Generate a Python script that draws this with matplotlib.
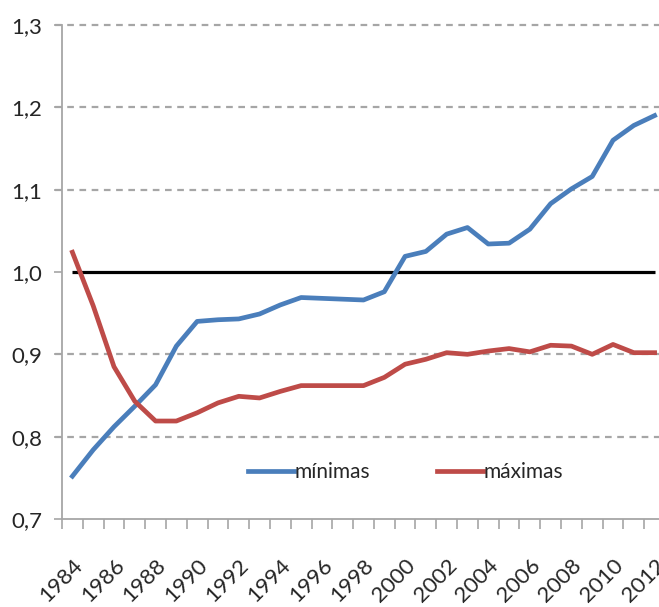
import matplotlib
matplotlib.use("Agg")
import matplotlib.pyplot as plt
from matplotlib.ticker import FuncFormatter

plt.rcParams['font.family'] = ['Lato', 'DejaVu Sans']

years = list(range(1984, 2013))
minimas = [0.752, 0.784, 0.812, 0.837, 0.863, 0.910, 0.940, 0.942, 0.943, 0.949,
           0.960, 0.969, 0.968, 0.967, 0.966, 0.976, 1.019, 1.025, 1.046, 1.054,
           1.034, 1.035, 1.052, 1.083, 1.101, 1.116, 1.160, 1.178, 1.190]
maximas = [1.024, 0.959, 0.885, 0.843, 0.819, 0.819, 0.829, 0.841, 0.849, 0.847,
           0.855, 0.862, 0.862, 0.862, 0.862, 0.872, 0.888, 0.894, 0.902, 0.900,
           0.904, 0.907, 0.903, 0.911, 0.910, 0.900, 0.912, 0.902, 0.902]
reference = [1.0] * len(years)
y_ticks = [0.7, 0.8, 0.9, 1.0, 1.1, 1.2, 1.3]

blue = '#4A7EBB'
red = '#BE4B48'
grey = '#A6A6A6'
text_col = '#262626'

fig = plt.figure(figsize=(6.59, 6.07), dpi=100)
ax = fig.add_axes([62 / 659, 88 / 607, 603 / 659, 494 / 607])

x = list(range(len(years)))

# dashed horizontal grid
for v in y_ticks[1:]:
    if abs(v - 1.0) > 1e-9:
        ax.axhline(v, color=grey, lw=1.6, ls=(0, (3, 2.5)), zorder=1, xmin=-0.012, clip_on=False)

ax.plot(x, reference, color='black', lw=2.3, zorder=2, solid_capstyle='butt')
ax.plot(x, minimas, color=blue, lw=3.4, label='mínimas', zorder=3, solid_joinstyle='round')
ax.plot(x, maximas, color=red, lw=3.4, label='máximas', zorder=3, solid_joinstyle='round')

ax.set_xlim(-0.5, len(years) - 0.5)
ax.set_ylim(0.7, 1.3)

ax.set_yticks(y_ticks)
ax.yaxis.set_major_formatter(FuncFormatter(lambda v, p: f"{v:.1f}".replace('.', ',')))
ax.tick_params(axis='y', length=6, width=1.2, color=grey, labelsize=16, pad=8, labelcolor=text_col)

# category labels every second year, tick marks between categories
ax.set_xticks(x[::2])
ax.set_xticklabels([str(y) for y in years[::2]], rotation=45, ha='right',
                   rotation_mode='anchor', fontsize=16, color=text_col)
ax.tick_params(axis='x', which='major', length=0, pad=26)
ax.set_xticks([i - 0.5 for i in range(len(years) + 1)], minor=True)
ax.tick_params(axis='x', which='minor', length=7, width=1.2, color=grey)

for side in ['top', 'right']:
    ax.spines[side].set_visible(False)
for side in ['left', 'bottom']:
    ax.spines[side].set_color(grey)
    ax.spines[side].set_linewidth(1.3)

leg = ax.legend(loc='center', bbox_to_anchor=(0.57, 0.095), ncol=2, frameon=False,
                fontsize=15, handlelength=2.2, handletextpad=0.05, columnspacing=3.2)
for t in leg.get_texts():
    t.set_color(text_col)

fig.savefig('out.png', dpi=100)
